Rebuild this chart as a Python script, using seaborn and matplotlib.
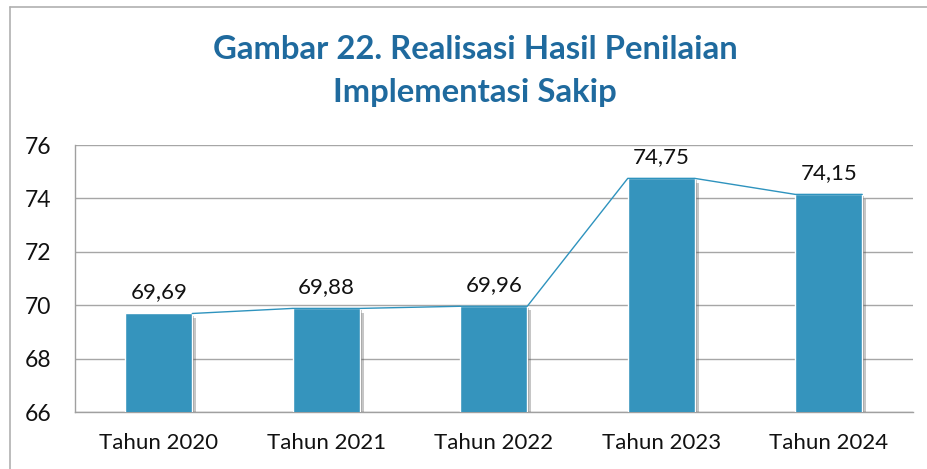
import matplotlib
matplotlib.use("Agg")
import matplotlib.pyplot as plt
import matplotlib.patheffects as pe
from matplotlib.lines import Line2D
import seaborn as sns
import pandas as pd
import numpy as np

categories = ["Tahun 2020", "Tahun 2021", "Tahun 2022", "Tahun 2023", "Tahun 2024"]
values = [69.69, 69.88, 69.96, 74.75, 74.15]
value_labels = ["69,69", "69,88", "69,96", "74,75", "74,15"]
yticks = [66, 68, 70, 72, 74, 76]
title = "Gambar 22. Realisasi Hasil Penilaian\nImplementasi Sakip"

sns.set_theme(style="white")
plt.rcParams['font.family'] = ['Lato', 'DejaVu Sans']

W, H = 927, 469
fig = plt.figure(figsize=(W / 100, H / 100), dpi=100)
ax = fig.add_axes([75 / W, 1 - 412 / H, (912.5 - 75) / W, (412 - 145) / H])

bar_color = "#3594BD"
df = pd.DataFrame({"cat": categories, "val": values})
width = 0.4
sns.barplot(data=df, x="cat", y="val", color=bar_color, width=width, saturation=1,
            ax=ax, zorder=3)
for p in ax.patches:
    p.set_path_effects([pe.SimplePatchShadow(offset=(3, -3), alpha=0.3, shadow_rgbFace="#444444"),
                        pe.SimplePatchShadow(offset=(1.5, -1.5), alpha=0.35, shadow_rgbFace="#444444"),
                        pe.Normal()])

# connector line along bar tops
lx, ly = [], []
for i, v in enumerate(values):
    lx += [i - width / 2, i + width / 2]
    ly += [v, v]
ax.plot(lx[1:], ly[1:], color="#2E93BE", lw=1.0, zorder=4)

for i, (v, lab) in enumerate(zip(values, value_labels)):
    ax.annotate(lab, (i, v), xytext=(0, 8), textcoords="offset points",
                ha="center", va="bottom", fontsize=16, color="#111111", zorder=5)

ax.set_ylim(66, 76)
ax.set_xlim(-0.5, 4.5)
ax.set_yticks(yticks)
ax.set_yticklabels([str(t) for t in yticks], fontsize=16.5, color="#111111")
ax.set_xticks(range(len(categories)))
ax.set_xticklabels(categories, fontsize=16, color="#111111")
ax.set_xticks(np.arange(-0.5, 5, 1), minor=True)
ax.tick_params(axis="x", which="major", length=0, pad=15)
ax.tick_params(axis="x", which="minor", length=5, width=1, color="#A0A0A0", direction="out")
ax.tick_params(axis="y", length=6, width=1, color="#A0A0A0", direction="out", pad=11)
ax.set_xlabel("")
ax.set_ylabel("")
ax.yaxis.grid(True, color="#A6A6A6", lw=1.0, zorder=0)
ax.set_axisbelow(True)
for s in ["top", "right"]:
    ax.spines[s].set_visible(False)
for s in ["left", "bottom"]:
    ax.spines[s].set_color("#A0A0A0")
    ax.spines[s].set_linewidth(1.0)

fig.text(475 / W, 1 - 71 / H, title, ha="center", va="center", fontsize=23.7,
         fontweight="bold", color="#1F6A9E", linespacing=1.55)

# outer frame
fig.add_artist(Line2D([10 / W, 10 / W], [0, 1 - 7.5 / H], color="#B0B0B0", lw=1.2,
                      transform=fig.transFigure))
fig.add_artist(Line2D([10 / W, 1], [1 - 7.5 / H, 1 - 7.5 / H], color="#B0B0B0", lw=1.2,
                      transform=fig.transFigure))

fig.savefig("out.png", dpi=100)
